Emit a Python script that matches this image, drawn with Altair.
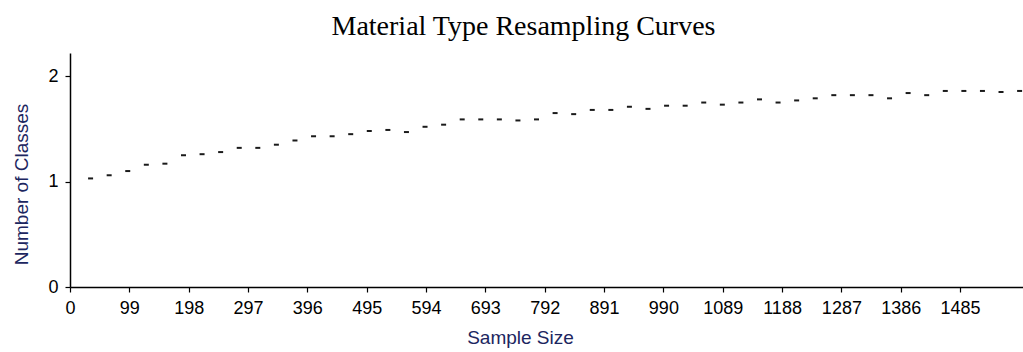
import altair as alt
import pandas as pd

# Sample sizes (x) and number of classes (y)
sample_size = [31, 62, 93, 124, 155, 186, 217, 248, 279, 310,
               341, 372, 403, 434, 465, 496, 527, 558, 589, 620,
               651, 682, 713, 744, 775, 806, 837, 868, 899, 930,
               961, 992, 1023, 1054, 1085, 1116, 1147, 1178, 1209, 1240,
               1271, 1302, 1333, 1364, 1395, 1426, 1457, 1488, 1519, 1550,
               1581]
num_classes = [1.03, 1.06, 1.10, 1.16, 1.17, 1.25, 1.26, 1.28, 1.32, 1.32,
               1.35, 1.39, 1.43, 1.43, 1.45, 1.48, 1.49, 1.47, 1.52, 1.54,
               1.59, 1.59, 1.59, 1.58, 1.59, 1.65, 1.64, 1.68, 1.68, 1.71,
               1.69, 1.72, 1.72, 1.75, 1.73, 1.75, 1.78, 1.75, 1.77, 1.79,
               1.82, 1.82, 1.82, 1.79, 1.84, 1.82, 1.86, 1.86, 1.86, 1.85,
               1.86]
x_ticks = [0, 99, 198, 297, 396, 495, 594, 693, 792, 891, 990, 1089,
           1188, 1287, 1386, 1485]
y_ticks = [0, 1, 2]

df = pd.DataFrame({"Sample Size": sample_size, "Number of Classes": num_classes})

label_font = "Liberation Sans, Arial, sans-serif"
title_font = "Liberation Sans, Arial, sans-serif"
title_color = "#1c2660"

chart = alt.Chart(df).mark_tick(
    orient="horizontal", size=5, thickness=2, color="#1a1a1a", xOffset=2, opacity=1
).encode(
    x=alt.X("Sample Size:Q",
            scale=alt.Scale(domain=[0, 1590], nice=False, zero=True),
            axis=alt.Axis(values=x_ticks, grid=False, title="Sample Size", format="d",
                          labelFont=label_font, labelFontSize=18, labelColor="#000000",
                          labelPadding=7, tickSize=5, tickColor="#000000",
                          domainColor="#000000", domainWidth=1.5, tickWidth=1.2,
                          labelFlush=False, labelOverlap=False,
                          titleFont=title_font, titleFontSize=19, titleFontWeight="normal",
                          titleColor=title_color, titleX=450, titleY=56,
                          titleAlign="center",
                          titleBaseline="alphabetic")),
    y=alt.Y("Number of Classes:Q",
            scale=alt.Scale(domain=[0, 2.22], nice=False),
            axis=alt.Axis(values=y_ticks, grid=False, title="Number of Classes", format="d",
                          labelFont=label_font, labelFontSize=18, labelColor="#000000",
                          labelPadding=7, tickSize=5, tickColor="#000000",
                          domainColor="#000000", domainWidth=1.5, tickWidth=1.2,
                          labelFlush=False,
                          titleFont=title_font, titleFontSize=19, titleFontWeight="normal",
                          titleColor=title_color, titleX=-43, titleY=131,
                          titleAngle=270, titleAlign="center",
                          titleBaseline="alphabetic")),
).properties(
    width=953,
    height=234,
    title=alt.TitleParams("Material Type Resampling Curves",
                          font="Liberation Serif, Times New Roman, serif",
                          fontSize=28, fontWeight="normal", color="#000000",
                          anchor="middle", dx=-23, dy=-8),
    autosize=alt.AutoSizeParams(type="none"),
    padding={"left": 70, "top": 53, "right": 0, "bottom": 65},
).configure(background="white").configure_view(stroke=None, strokeWidth=0)

chart.save("out.html", embed_options={"renderer": "svg", "actions": False})
